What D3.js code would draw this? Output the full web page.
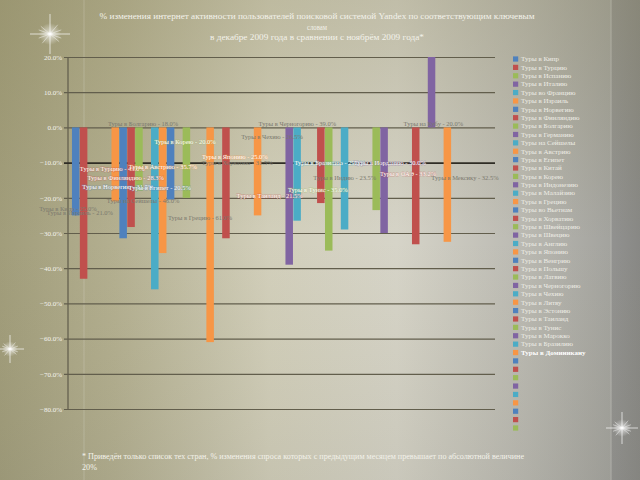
<!DOCTYPE html>
<html>
<head>
<meta charset="utf-8">
<script src="https://cdn.jsdelivr.net/npm/d3@7/dist/d3.min.js"></script>
<style>
  html, body { margin: 0; padding: 0; background: #c6c3b0; }
  svg { display: block; font-family: "Liberation Serif", "DejaVu Serif", serif; }
</style>
</head>
<body>
<script>
// series names (one bar per series, single category)
var names = [
  "Туры в Кипр", "Туры в Турцию", "Туры в Испанию", "Туры в Италию", "Туры во Францию",
  "Туры в Израиль", "Туры в Норвегию", "Туры в Финляндию", "Туры в Болгарию", "Туры в Германию",
  "Туры на Сейшелы", "Туры в Австрию", "Туры в Египет", "Туры в Китай", "Туры в Корею",
  "Туры в Индонезию", "Туры в Малайзию", "Туры в Грецию", "Туры во Вьетнам", "Туры в Хорватию",
  "Туры в Швейцарию", "Туры в Швецию", "Туры в Англию", "Туры в Японию", "Туры в Венгрию",
  "Туры в Польшу", "Туры в Латвию", "Туры в Черногорию", "Туры в Чехию", "Туры в Литву",
  "Туры в Эстонию", "Туры в Таиланд", "Туры в Тунис", "Туры в Марокко", "Туры в Бразилию",
  "Туры в Доминикану", "Туры в Португалию", "Туры на Мальту", "Туры в Индию", "Туры в Иорданию",
  "Туры в Словакию", "Туры в Сербию", "Туры в Румынию", "Туры в ОАЭ", "Туры в Сирию",
  "Туры на Кубу", "Туры в Аргентину", "Туры в Мексику", "Туры в Перу", "Туры в Кению",
  "Туры в Танзанию", "Туры в ЮАР", "Туры в Австралию"
];

// % change Dec 2009 vs Nov 2009 (null = series not shown)
var values = [
  -25.0, -43.0, null, null, null,
  -21.0, -31.5, -28.3, -18.0, null,
  -46.0, -35.7, -20.5, null, -20.0,
  null, null, -61.0, null, -31.5,
  null, null, null, -25.0, null,
  null, null, -39.0, -26.5, null,
  null, -21.5, -35.0, null, -29.0,
  null, null, null, -23.5, -30.0,
  null, null, null, -33.2, null,
  20.0, null, -32.5, null, null,
  null, null, null
];

// where each bar's data label was dragged to (slot units, % units), in bar order
var labelSlot  = [-1.0, 4.6, 0.5, 5.3, 6.3, 8.5, 8.5, 11.0, 10.6, 13.8, 15.7, 20.4,
                  20.1, 28.0, 24.8, 24.5, 30.6, 32.1, 34.0, 39.7, 42.0, 45.2, 49.2];
var labelLevel = [-23.2, -11.8, -24.3, -16.9, -14.3, 1.0, -20.9, -11.2, -17.2, -4.1, -25.7, -10.1,
                  -8.4, 1.0, -2.7, -19.5, -17.8, -10.1, -14.3, -10.1, -13.2, 1.0, -14.3];
var labelLight = [false, true, false, true, true, false, false, true, true, true, false, false,
                  true, false, false, true, true, true, false, true, true, false, false];

var yTicks = [20, 10, 0, -10, -20, -30, -40, -50, -60, -70, -80];

var titleLines = [
  "% изменения интернет активности пользователей поисковой системой Yandex по соответствующим ключевым",
  "словам",
  "в декабре 2009 года в сравнении с ноябрём 2009 года*"
];
var noteLines = [
  "* Приведён только список тех стран, % изменения спроса которых с предыдущим месяцем превышает по абсолютной величине",
  "20%"
];

var palette = ["#4F81BD", "#C0504D", "#9BBB59", "#8064A2", "#4BACC6", "#F79646"];
var legendShown = 45, legendNamed = 36;

var W = 640, H = 480;
var svg = d3.select("body").append("svg").attr("width", W).attr("height", H);
var defs = svg.append("defs");

// slide background
var bg = defs.append("linearGradient").attr("id", "bg");
[[0, "#a19d7b"], [0.18, "#b3af90"], [0.42, "#d2cfbb"], [0.62, "#d6d4c8"], [0.82, "#bab9b2"], [0.955, "#a3a39e"], [0.956, "#929290"], [1, "#888885"]]
  .forEach(function(s){ bg.append("stop").attr("offset", s[0]).attr("stop-color", s[1]); });
var shade = defs.append("linearGradient").attr("id", "shade").attr("x1", 0).attr("y1", 0).attr("x2", 0).attr("y2", 1);
shade.append("stop").attr("offset", 0).attr("stop-color", "#8a8458").attr("stop-opacity", 0.28);
shade.append("stop").attr("offset", 0.5).attr("stop-color", "#8a8458").attr("stop-opacity", 0);
shade.append("stop").attr("offset", 1).attr("stop-color", "#6e6c5c").attr("stop-opacity", 0.12);
var glow = defs.append("radialGradient").attr("id", "glow");
glow.append("stop").attr("offset", 0).attr("stop-color", "#fff").attr("stop-opacity", 1);
glow.append("stop").attr("offset", 0.3).attr("stop-color", "#fff").attr("stop-opacity", 0.5);
glow.append("stop").attr("offset", 1).attr("stop-color", "#fff").attr("stop-opacity", 0);

svg.append("rect").attr("width", W).attr("height", H).attr("fill", "url(#bg)");
svg.append("rect").attr("width", W).attr("height", H).attr("fill", "url(#shade)");

// faint vertical slide lines
[84, 611].forEach(function(x){
  svg.append("line").attr("x1", x).attr("x2", x).attr("y1", 0).attr("y2", H)
     .attr("stroke", "#ffffff").attr("stroke-opacity", 0.18).attr("stroke-width", 1);
});

// sparkles
function sparkle(cx, cy, r){
  var g = svg.append("g").attr("transform", "translate(" + cx + "," + cy + ")");
  g.append("circle").attr("r", r * 0.55).attr("fill", "url(#glow)");
  [0, 90, 40, 130, 20, 160].forEach(function(a, i){
    var len = i < 2 ? r : r * 0.6;
    g.append("line").attr("x1", -len).attr("x2", len).attr("y1", 0).attr("y2", 0)
     .attr("transform", "rotate(" + a + ")")
     .attr("stroke", "#fff").attr("stroke-opacity", i < 2 ? 0.85 : 0.5).attr("stroke-width", 0.8);
  });
}
sparkle(50, 34, 20);
sparkle(10, 349, 14);
sparkle(622, 428, 16);

// scales
var margin = {left: 68, right: 145, top: 57, bottom: 71};
var x = d3.scaleBand()
  .domain(d3.range(names.length))
  .range([margin.left, W - margin.right])
  .paddingInner(0).paddingOuter(0.5);
var y = d3.scaleLinear().domain([20, -80]).range([margin.top, H - margin.bottom]);
var slotX = d3.scaleLinear().domain([0, 1])
  .range([x(0) + x.bandwidth() / 2, x(1) + x.bandwidth() / 2]);

// gridlines + axis
var yAxis = d3.axisLeft(y).tickValues(yTicks)
  .tickSize(-(W - margin.right - margin.left + 4))
  .tickFormat(function(d){ return d3.format(".1f")(d) + "%"; });
var ga = svg.append("g").attr("transform", "translate(" + margin.left + ",0)").call(yAxis);
ga.select(".domain").attr("stroke", "#5f5b4a").attr("stroke-width", 1.2).attr("d",
  "M0," + y(20) + "V" + y(-80));
ga.selectAll(".tick line")
  .attr("x1", -4).attr("x2", W - margin.right - margin.left)
  .attr("stroke", function(d){ return d === -10 ? "#2f2d25" : "#625e4c"; })
  .attr("stroke-width", function(d){ return d === -10 ? 1.6 : 1.2; });
ga.selectAll(".tick text")
  .attr("x", -6).attr("fill", "#f4f3ec")
  .style("font-family", "Liberation Serif, serif").style("font-size", "7px");

// bars
var bars = d3.range(names.length).filter(function(i){ return values[i] !== null; });
svg.append("g").selectAll("rect").data(bars).enter().append("rect")
  .attr("x", function(i){ return x(i); })
  .attr("width", x.bandwidth() - 0.4)
  .attr("y", function(i){ return y(Math.max(0, values[i])); })
  .attr("height", function(i){ return Math.abs(y(values[i]) - y(0)); })
  .attr("fill", function(i){ return palette[i % 6]; });

// data labels
svg.append("g").selectAll("text").data(bars).enter().append("text")
  .attr("x", function(i, k){ return slotX(labelSlot[k]); })
  .attr("y", function(i, k){ return y(labelLevel[k]) + 2.2; })
  .attr("text-anchor", "middle")
  .attr("font-size", 6.5)
  .attr("fill", function(i, k){ return labelLight[k] ? "#fffdf8" : "#7b796e"; })
  .style("paint-order", "stroke")
  .attr("stroke", function(i, k){ return labelLight[k] ? palette[i % 6] : "none"; })
  .attr("stroke-opacity", 0.35).attr("stroke-width", 1)
  .text(function(i){
    return names[i] + " - " + d3.format(".1f")(Math.abs(values[i])) + "%";
  });

// legend
var ly = d3.scaleLinear().domain([0, legendShown - 1]).range([59, 428]);
var lg = svg.append("g").selectAll("g").data(d3.range(legendShown)).enter().append("g")
  .attr("transform", function(i){ return "translate(513," + ly(i) + ")"; });
lg.append("rect").attr("x", 0).attr("y", -2.6).attr("width", 5.2).attr("height", 5.2)
  .attr("fill", function(i){ return palette[i % 6]; });
lg.filter(function(i){ return i < legendNamed; }).append("text")
  .attr("x", 8).attr("y", 2.3)
  .attr("font-size", 7)
  .attr("font-weight", function(i){ return i === legendNamed - 1 ? "bold" : null; })
  .attr("fill", function(i){ return i === legendNamed - 1 ? "#ffffff" : "#eeede6"; })
  .text(function(i){ return names[i]; });

// title
var titleY = [16, 27, 36.5];
var titleW = [435, 20, 214];
svg.append("g").selectAll("text").data(titleLines).enter().append("text")
  .attr("x", 317).attr("y", function(d, i){ return titleY[i] + 3; })
  .attr("text-anchor", "middle")
  .attr("font-size", 8.6)
  .attr("fill", "#f3f2ea")
  .attr("textLength", function(d, i){ return titleW[i]; })
  .attr("lengthAdjust", "spacingAndGlyphs")
  .text(function(d){ return d; });

// footnote
var noteY = [459, 470];
var noteW = [442, 15];
svg.append("g").selectAll("text").data(noteLines).enter().append("text")
  .attr("x", 82).attr("y", function(d, i){ return noteY[i]; })
  .attr("font-size", 8.3)
  .attr("fill", "#f3f2ea")
  .attr("textLength", function(d, i){ return noteW[i]; })
  .attr("lengthAdjust", "spacingAndGlyphs")
  .text(function(d){ return d; });
</script>
</body>
</html>
